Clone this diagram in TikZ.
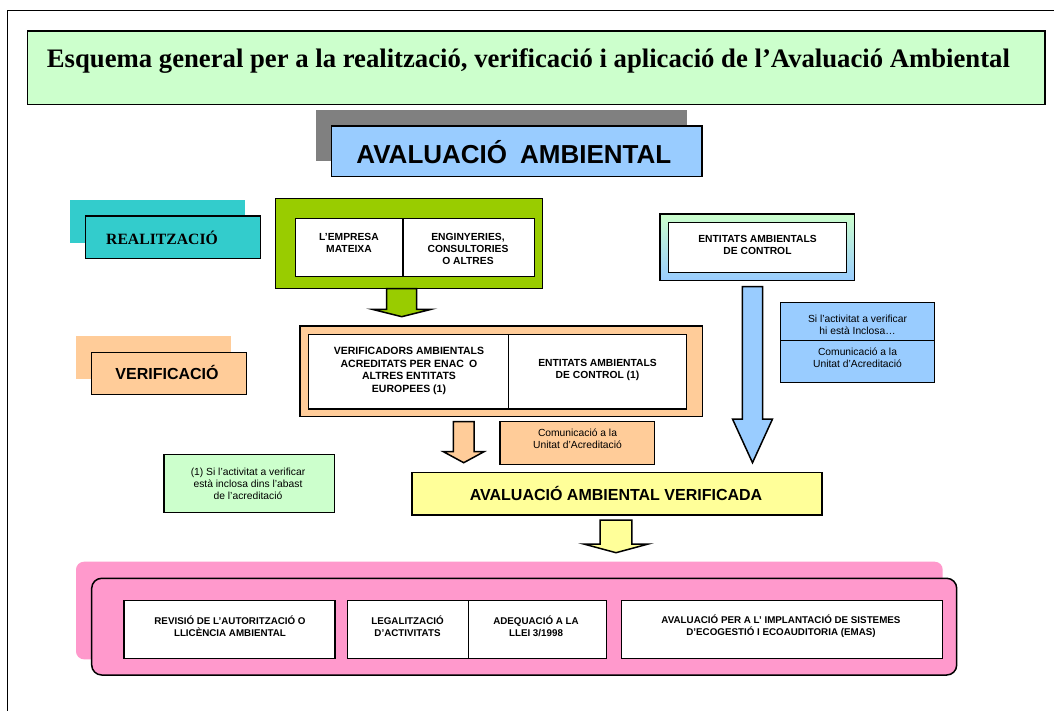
\documentclass[tikz,border=0pt]{standalone}
\usepackage{fontspec}
\setmainfont{Liberation Sans}
\newfontfamily\tms{Liberation Serif}
\definecolor{cMint}{HTML}{CCFFCC}
\definecolor{cGray}{HTML}{808080}
\definecolor{cBlue}{HTML}{99CCFF}
\definecolor{cCyan}{HTML}{33CCCC}
\definecolor{cGreen}{HTML}{99CC00}
\definecolor{cOrange}{HTML}{FFCC99}
\definecolor{cYellow}{HTML}{FFFF99}
\definecolor{cPink}{HTML}{FF99CC}
\newcommand\blockarr[7]{%
  \draw[arrowline, fill=#7] (#1-#3,#2) -- (#1-#3,#4) -- (#1-#5,#4) -- (#1,#6)
    -- (#1+#5,#4) -- (#1+#3,#4) -- (#1+#3,#2) -- cycle;}
\begin{document}
\begin{tikzpicture}[x=1pt,y=-1pt,
  rbox/.style={draw=black, line width=1.5pt, inner sep=0pt, outer sep=0pt, anchor=north west},
  shadowbox/.style={draw=none, inner sep=0pt, outer sep=0pt, anchor=north west},
  arrowline/.style={draw=black, line width=1.5pt, line join=miter},
  sb/.style={font=\fontsize{10.3}{12}\selectfont\bfseries, align=center, inner sep=0pt},
  sr/.style={font=\fontsize{10.3}{12}\selectfont, align=center, inner sep=0pt},
  bb/.style={font=\fontsize{9.8}{11.5}\selectfont\bfseries, align=center, inner sep=0pt}]
\useasboundingbox (0,0) rectangle (1054,711);
\fill[white] (0,0) rectangle (1054,711);
% outer frame (only left and top edges visible)
\draw[line width=1.5pt] (7.3,715) -- (7.3,10.3) -- (1060,10.3);

% title
\node[rbox, fill=cMint, minimum width=1017.5pt, minimum height=73.3pt] (title) at (27.5,31) {};
\node[font=\tms\bfseries\fontsize{26.7}{30}\selectfont, anchor=base west, inner sep=0pt] (titletxt) at (46.7,68)
  {Esquema general per a la realització, verificació i aplicació de l’Avaluació Ambiental};

% main heading
\node[shadowbox, fill=cGray, minimum width=371pt, minimum height=51pt] (graysh) at (316,110) {};
\node[rbox, fill=cBlue, minimum width=370.3pt, minimum height=50.7pt] (main) at (331.7,126) {};
\node[font=\fontsize{26}{30}\selectfont\bfseries, inner sep=0pt] (maintxt) at (513.9,152.5)
  {AVALUACIÓ\hspace{13pt}AMBIENTAL};

% realitzacio label
\node[shadowbox, fill=cCyan, minimum width=175pt, minimum height=42.7pt] (realsh) at (70,200) {};
\node[rbox, fill=cCyan, minimum width=174.6pt, minimum height=42.7pt] (real) at (85.7,216) {};
\node[font=\tms\bfseries\fontsize{15.7}{18}\selectfont, inner sep=0pt] (realtxt) at (162,237.4) {REALITZACIÓ};

% green group
\node[rbox, fill=cGreen, minimum width=266.6pt, minimum height=90.4pt] (green) at (275.7,198.3) {};
\node[rbox, fill=white, minimum width=107.3pt, minimum height=58.2pt] (emp) at (295.7,218.3) {};
\node[rbox, fill=white, minimum width=131.7pt, minimum height=58.2pt] (eng) at (403,218.3) {};
\node[sb] (emptxt) at (349,243.3) {L’EMPRESA\\MATEIXA};
\node[sb] (engtxt) at (468,249.3) {ENGINYERIES,\\CONSULTORIES\\O ALTRES};

% entitats ambientals de control (right)
\node[rbox, top color=cMint, bottom color=cBlue, minimum width=194.7pt, minimum height=66.7pt] (ent) at (660,214) {};
\node[rbox, fill=white, minimum width=178.4pt, minimum height=50pt] (entin) at (668.3,222.3) {};
\node[sb] (enttxt) at (757.5,245.3) {ENTITATS AMBIENTALS\\DE CONTROL};

% side blue notes
\node[rbox, fill=cBlue, minimum width=154.4pt, minimum height=38.4pt] (si) at (780.3,302.3) {};
\node[rbox, fill=cBlue, minimum width=154.4pt, minimum height=42pt] (comb) at (780.3,340.7) {};
\node[sr] (sitxt) at (857.5,325.3) {Si l’activitat a verificar\\hi està Inclosa…};
\node[sr] (combtxt) at (857.5,357.7) {Comunicació a la\\Unitat d’Acreditació};

% verificacio label
\node[shadowbox, fill=cOrange, minimum width=155pt, minimum height=42.7pt] (versh) at (76,336) {};
\node[rbox, fill=cOrange, minimum width=155pt, minimum height=42.2pt] (ver) at (91.7,352.3) {};
\node[font=\fontsize{16}{19}\selectfont\bfseries, inner sep=0pt] (vertxt) at (167,372) {VERIFICACIÓ};

% orange group
\node[rbox, fill=cOrange, minimum width=402.7pt, minimum height=90.7pt] (orange) at (300,326) {};
\node[rbox, fill=white, minimum width=200pt, minimum height=74.7pt] (vin1) at (308.3,334.3) {};
\node[rbox, fill=white, minimum width=178.4pt, minimum height=74.7pt] (vin2) at (508.3,334.3) {};
\node[sb, font=\fontsize{10.5}{12.8}\selectfont\bfseries] (vin1txt) at (409,371)
  {VERIFICADORS AMBIENTALS\\ACREDITATS PER ENAC\enspace O\\ALTRES ENTITATS\\EUROPEES (1)};
\node[sb] (vin2txt) at (597.5,369.5) {ENTITATS AMBIENTALS\\DE CONTROL (1)};

% communication (orange)
\node[rbox, fill=cOrange, minimum width=154.7pt, minimum height=42.6pt] (como) at (500,421.7) {};
\node[sr] (comotxt) at (577.5,439.2) {Comunicació a la\\Unitat d’Acreditació};

% footnote
\node[rbox, fill=cMint, minimum width=170.3pt, minimum height=58.4pt] (foot) at (164,454.3) {};
\node[sr] (foottxt) at (248,483.8) {(1) Si l’activitat a verificar\\està inclosa dins l’abast\\de l’acreditació};

% verified
\node[rbox, fill=cYellow, minimum width=410pt, minimum height=42.7pt] (yel) at (412,472.3) {};
\node[font=\fontsize{16}{19}\selectfont\bfseries, inner sep=0pt] (yeltxt) at (616,493) {AVALUACIÓ AMBIENTAL VERIFICADA};

% pink group
\node[shadowbox, fill=cPink, rounded corners=8pt, minimum width=866.7pt, minimum height=97.6pt] (pinksh) at (76,561.7) {};
\node[rbox, fill=cPink, rounded corners=10pt, minimum width=865pt, minimum height=96.7pt] (pink) at (91.7,578.3) {};
\node[rbox, fill=white, minimum width=211pt, minimum height=57.6pt] (rev) at (124,600.7) {};
\node[rbox, fill=white, minimum width=120.6pt, minimum height=57.6pt] (leg) at (347.7,600.7) {};
\node[rbox, fill=white, minimum width=138.4pt, minimum height=57.6pt] (adq) at (468.3,600.7) {};
\node[rbox, fill=white, minimum width=321pt, minimum height=57.6pt] (ava) at (621.7,600.7) {};
\node[bb] (revtxt) at (230,626.2) {REVISIÓ DE L’AUTORITZACIÓ O\\LLICÈNCIA AMBIENTAL};
\node[bb] (legtxt) at (407.5,626.2) {LEGALITZACIÓ\\D’ACTIVITATS};
\node[bb] (adqtxt) at (536,626.2) {ADEQUACIÓ A LA\\LLEI 3/1998};
\node[bb] (avatxt) at (781,626) {AVALUACIÓ PER A L’ IMPLANTACIÓ DE SISTEMES\\D’ECOGESTIÓ I ECOAUDITORIA (EMAS)};

% block arrows
\blockarr{401.7}{288.7}{15}{309.3}{29.5}{316.7}{cGreen}
\blockarr{752.5}{286.7}{10.2}{419}{20}{462.7}{cBlue}
\blockarr{463.7}{421.7}{10.3}{451.7}{20.3}{462.7}{cOrange}
\blockarr{616}{520}{15.8}{544}{32.3}{552.7}{cYellow}
\end{tikzpicture}
\end{document}
